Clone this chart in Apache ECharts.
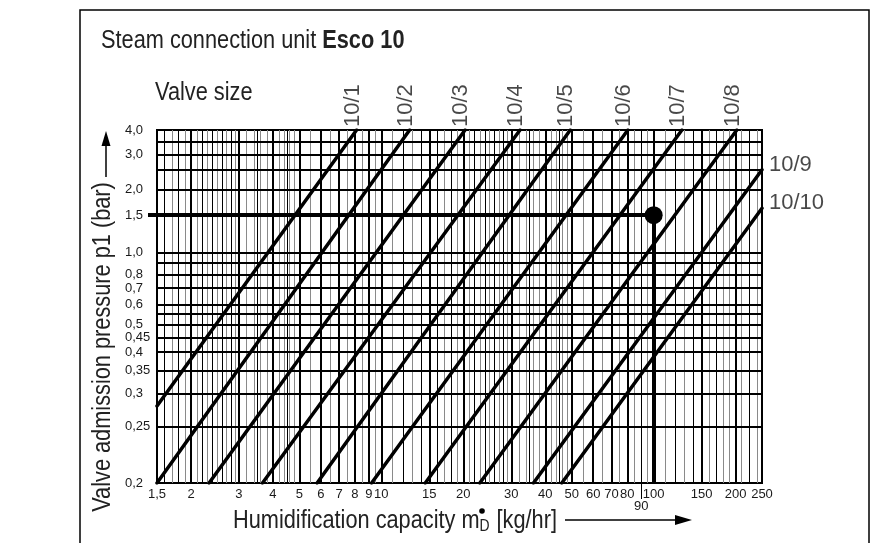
<!DOCTYPE html>
<html>
<head>
<meta charset="utf-8">
<script src="https://cdn.jsdelivr.net/npm/echarts@6/dist/echarts.min.js"></script>
<style>
  html, body { margin: 0; padding: 0; background: #fff; }
  #main { width: 875px; height: 543px; }
</style>
</head>
<body>
<div id="main"></div>
<script>
var valveNames = ['10/1', '10/2', '10/3', '10/4', '10/5', '10/6', '10/7', '10/8', '10/9', '10/10'];
var valveStart = [[1.5, 0.279], [1.5, 0.2], [2.33, 0.2], [3.66, 0.2], [5.81, 0.2], [9.21, 0.2], [14.5, 0.2], [23.0, 0.2], [36.2, 0.2], [46.0, 0.2]];
var valveEnd = [[8.11, 4.0], [12.7, 4.0], [20.3, 4.0], [32.3, 4.0], [49.4, 4.0], [80.4, 4.0], [127, 4.0], [202, 4.0], [250, 2.51], [250, 1.62]];

// worked example: 1.5 bar -> 100 kg/hr
var readPoint = [100, 1.5];

// axis ticks
var xTicks = [1.5, 2, 3, 4, 5, 6, 7, 8, 9, 10, 15, 20, 30, 40, 50, 60, 70, 80, 90, 100, 150, 200, 250];
var xTickText = ['1,5', '2', '3', '4', '5', '6', '7', '8', '9', '10', '15', '20', '30', '40', '50', '60', '70', '80', '90', '100', '150', '200', '250'];
var yTicks = [0.2, 0.25, 0.3, 0.35, 0.4, 0.45, 0.5, 0.6, 0.7, 0.8, 1.0, 1.5, 2.0, 3.0, 4.0];
var yTickText = ['0,2', '0,25', '0,3', '0,35', '0,4', '0,45', '0,5', '0,6', '0,7', '0,8', '1,0', '1,5', '2,0', '3,0', '4,0'];

// grid lines
var xBold = [2, 3, 4, 5, 6, 7, 8, 9, 10, 15, 20, 30, 40, 50, 60, 70, 80, 100, 150, 200];
var xThin = [1.6, 1.8, 2.2, 2.4, 2.6, 2.8, 3.5, 4.5, 12, 14, 16, 18, 22, 24, 26, 28, 35, 45, 90, 120, 140, 170, 225];
var xGray = [1.7, 1.9, 2.1, 2.3, 2.5, 2.7, 2.9, 3.2, 3.4, 3.6, 3.8, 4.2, 4.4, 4.6, 4.8, 5.5, 6.5, 7.5, 8.5, 9.5,
  11, 13, 17, 19, 21, 23, 25, 27, 29, 32, 34, 36, 38, 42, 44, 46, 48, 55, 65, 75, 85, 95,
  110, 130, 160, 180, 190, 210, 240];
var yBold = [0.25, 0.3, 0.35, 0.4, 0.45, 0.5, 0.55, 0.6, 0.7, 0.8, 0.9, 1.0, 2.0, 2.5, 3.0, 3.5];

var P_MIN = 0.2, P_MAX = 4.0, M_MIN = 1.5, M_MAX = 250;

// the pressure scale of the chart is logarithmic in (p - 0.15 bar)
function fx(m) { return Math.log10(m); }
function fy(p) { return Math.log10(p - 0.15); }
function pt(d) { return [fx(d[0]), fy(d[1])]; }

var FONT = "'Liberation Sans', Arial, sans-serif";
var NARROW = 0.87;   // the original lettering is a narrow grotesque

function vSeg(m, color, w) {
  return { coords: [[fx(m), fy(P_MIN)], [fx(m), fy(P_MAX)]], lineStyle: { color: color, width: w, opacity: 1 } };
}
function hSeg(p, color, w) {
  return { coords: [[fx(M_MIN), fy(p)], [fx(M_MAX), fy(p)]], lineStyle: { color: color, width: w, opacity: 1 } };
}

var grayLines = xGray.map(function (m) { return vSeg(m, '#8a8a8a', 1); });
var blackLines = xThin.map(function (m) { return vSeg(m, '#000', 1); })
  .concat(xBold.map(function (m) { return vSeg(m, '#000', 2); }))
  .concat(yBold.map(function (p) { return hSeg(p, '#000', 2); }));

var valveLines = valveNames.map(function (n, i) {
  return { coords: [pt(valveStart[i]), pt(valveEnd[i])] };
});

var valveLabels = valveNames.map(function (n, i) {
  var onRight = valveEnd[i][0] >= M_MAX;
  return {
    name: n,
    value: pt(valveEnd[i]),
    label: onRight
      ? { rotate: 0, position: [7, -5], align: 'left', verticalAlign: 'middle' }
      : { rotate: 90, position: [-4, -3], align: 'left', verticalAlign: 'middle' }
  };
});

function tickText(list, texts, v) {
  for (var i = 0; i < list.length; i++) {
    if (Math.abs(list[i] - v) < 1e-9) return texts[i];
  }
  return '';
}

var chart = echarts.init(document.getElementById('main'));
chart.setOption({
  animation: false,
  backgroundColor: '#fff',
  grid: {
    left: 157, top: 130, width: 605, height: 353,
    show: true, borderColor: '#000', borderWidth: 2, backgroundColor: 'transparent'
  },
  xAxis: {
    type: 'value', min: fx(M_MIN), max: fx(M_MAX),
    axisLine: { show: false, onZero: false },
    splitLine: { show: false },
    axisTick: { show: true, customValues: [fx(90)], length: 16, inside: false, lineStyle: { color: '#000', width: 1 } },
    axisLabel: {
      customValues: xTicks.map(fx),
      margin: 5,
      color: '#1a1a1a', fontFamily: FONT, fontSize: 13, lineHeight: 12,
      formatter: function (v) {
        var t = tickText(xTicks.map(fx), xTickText, v);
        return t === '90' ? '\n90' : t;
      }
    }
  },
  yAxis: {
    type: 'value', min: fy(P_MIN), max: fy(P_MAX),
    axisLine: { show: false, onZero: false },
    splitLine: { show: false },
    axisTick: { show: true, customValues: [fy(1.5)], length: 9, inside: false, lineStyle: { color: '#000', width: 4 } },
    axisLabel: {
      customValues: yTicks.map(fy),
      margin: 32, align: 'left',
      color: '#1a1a1a', fontFamily: FONT, fontSize: 13,
      formatter: function (v) { return tickText(yTicks.map(fy), yTickText, v); }
    }
  },
  series: [
    {
      type: 'lines', coordinateSystem: 'cartesian2d', silent: true, z: 1,
      data: grayLines
    },
    {
      type: 'lines', coordinateSystem: 'cartesian2d', silent: true, z: 2,
      data: blackLines
    },
    {
      type: 'lines', coordinateSystem: 'cartesian2d', silent: true, z: 3,
      lineStyle: { color: '#000', width: 3.5, opacity: 1, cap: 'round' },
      data: valveLines
    },
    {
      type: 'lines', coordinateSystem: 'cartesian2d', silent: true, z: 4,
      lineStyle: { color: '#000', width: 4, opacity: 1 },
      data: [
        { coords: [pt([M_MIN, readPoint[1]]), pt(readPoint)] },
        { coords: [pt(readPoint), pt([readPoint[0], P_MIN])] }
      ]
    },
    {
      type: 'scatter', silent: true, z: 5,
      symbolSize: 18,
      itemStyle: { color: '#000', opacity: 1 },
      data: [pt(readPoint)]
    },
    {
      type: 'scatter', silent: true, z: 5,
      symbolSize: 0,
      label: {
        show: true, formatter: '{b}',
        color: '#1a1a1a', fontFamily: FONT, fontSize: 22
      },
      data: valveLabels
    }
  ],
  graphic: [
    {
      type: 'polyline', silent: true,
      shape: { points: [[80, 543], [80, 10], [869, 10], [869, 543]] },
      style: { stroke: '#000', lineWidth: 1.5, fill: null }
    },
    {
      type: 'text', x: 101, y: 41, scaleX: NARROW,
      style: {
        text: '{n|Steam connection unit }{b|Esco 10}',
        verticalAlign: 'middle',
        rich: {
          n: { fontFamily: FONT, fontSize: 25, fill: '#222' },
          b: { fontFamily: FONT, fontSize: 25, fontWeight: 'bold', fill: '#222' }
        }
      }
    },
    {
      type: 'text', x: 155, y: 93, scaleX: NARROW,
      style: { text: 'Valve size', fontFamily: FONT, fontSize: 25, fill: '#222', verticalAlign: 'middle' }
    },
    {
      type: 'text', x: 103, y: 347, rotation: Math.PI / 2, scaleX: NARROW,
      style: {
        text: 'Valve admission pressure p1 (bar)', fontFamily: FONT, fontSize: 25, fill: '#222',
        align: 'center', verticalAlign: 'middle'
      }
    },
    { type: 'line', silent: true, shape: { x1: 106, y1: 145, x2: 106, y2: 177 }, style: { stroke: '#000', lineWidth: 1.5 } },
    { type: 'polygon', silent: true, shape: { points: [[106, 131], [101.5, 146], [110.5, 146]] }, style: { fill: '#000' } },
    {
      type: 'text', x: 233, y: 521, scaleX: NARROW,
      style: {
        text: '{n|Humidification capacity m}{s|D}{n| [kg/hr]}',
        verticalAlign: 'middle',
        rich: {
          n: { fontFamily: FONT, fontSize: 25, fill: '#222', lineHeight: 28, verticalAlign: 'middle' },
          s: { fontFamily: FONT, fontSize: 16, fill: '#222', lineHeight: 28, verticalAlign: 'bottom', padding: [0, 1, 0, 0] }
        }
      }
    },
    { type: 'circle', silent: true, shape: { cx: 482, cy: 511, r: 2.8 }, style: { fill: '#000' } },
    { type: 'line', silent: true, shape: { x1: 565, y1: 520, x2: 678, y2: 520 }, style: { stroke: '#000', lineWidth: 1.5 } },
    { type: 'polygon', silent: true, shape: { points: [[692, 520], [675, 515], [675, 525]] }, style: { fill: '#000' } }
  ]
});
</script>
</body>
</html>
